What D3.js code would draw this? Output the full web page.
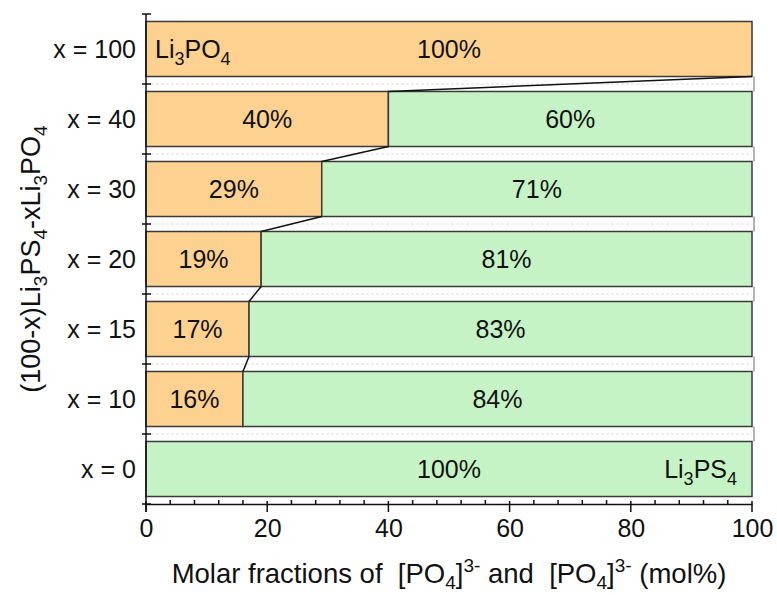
<!DOCTYPE html>
<html>
<head>
<meta charset="utf-8">
<script src="https://cdn.jsdelivr.net/npm/d3@7"></script>
<style>
  body { margin: 0; background: #fff; }
  text { font-family: Arial, "Liberation Sans", sans-serif; fill: #111; }
</style>
</head>
<body>
<div id="chart"></div>
<script>
// composition rows, top to bottom
var categories = ["x = 100", "x = 40", "x = 30", "x = 20", "x = 15", "x = 10", "x = 0"];
var po4 = [100, 40, 29, 19, 17, 16, 0];
var ps4 = [0, 60, 71, 81, 83, 84, 100];
var xTicks = [0, 20, 40, 60, 80, 100];

var svgWidth = 777;
var svgHeight = 595;

var margin = { top: 14, right: 25, bottom: 91, left: 146 };
var width = svgWidth - margin.left - margin.right;
var height = svgHeight - margin.top - margin.bottom;

var orange = "#fdd18f";
var green = "#c6f3c5";
var fs = 25;

var svg = d3.select("#chart")
  .append("svg")
  .attr("width", svgWidth)
  .attr("height", svgHeight);

var chartGroup = svg.append("g")
  .attr("transform", `translate(${margin.left}, ${margin.top})`);

var xScale = d3.scaleLinear().domain([0, 100]).range([0, width]);
var yScale = d3.scaleBand().domain(categories).range([0, height])
  .paddingInner(0.214).paddingOuter(0.107);

var step = yScale.step();
var bounds = d3.range(categories.length + 1).map(i => i * step);

// dashed grid in the gaps
chartGroup.selectAll(".grid")
  .data(bounds.slice(1, -1))
  .enter()
  .append("line")
  .attr("x1", 0).attr("x2", width)
  .attr("y1", d => d).attr("y2", d => d)
  .attr("stroke", "#dcdcdc")
  .attr("stroke-dasharray", "3,2");

// small marks on the right edge in gaps
chartGroup.selectAll(".edge")
  .data(categories.slice(0, -1))
  .enter()
  .append("line")
  .attr("x1", width + 2).attr("x2", width + 2)
  .attr("y1", d => yScale(d) + yScale.bandwidth())
  .attr("y2", (d, i) => yScale(categories[i + 1]))
  .attr("stroke", "#999")
  .attr("stroke-width", 1.5);

var rows = categories.map((c, i) => ({ cat: c, po4: po4[i], ps4: ps4[i] }));

// orange part
chartGroup.selectAll(".po4")
  .data(rows.filter(d => d.po4 > 0))
  .enter()
  .append("rect")
  .attr("x", xScale(0))
  .attr("y", d => yScale(d.cat))
  .attr("width", d => xScale(d.po4) - xScale(0))
  .attr("height", yScale.bandwidth())
  .attr("fill", orange)
  .attr("stroke", "#3a3a3a")
  .attr("stroke-width", 1.5);

// green part
chartGroup.selectAll(".ps4")
  .data(rows.filter(d => d.ps4 > 0))
  .enter()
  .append("rect")
  .attr("x", d => xScale(d.po4))
  .attr("y", d => yScale(d.cat))
  .attr("width", d => xScale(d.po4 + d.ps4) - xScale(d.po4))
  .attr("height", yScale.bandwidth())
  .attr("fill", green)
  .attr("stroke", "#3a3a3a")
  .attr("stroke-width", 1.5);

// connectors between orange ends
var links = [];
for (var i = 0; i < rows.length - 1; i++) {
  if (rows[i].po4 > 0 && rows[i + 1].po4 > 0) links.push([rows[i], rows[i + 1]]);
}
chartGroup.selectAll(".link")
  .data(links)
  .enter()
  .append("line")
  .attr("x1", d => xScale(d[0].po4))
  .attr("y1", d => yScale(d[0].cat) + yScale.bandwidth())
  .attr("x2", d => xScale(d[1].po4))
  .attr("y2", d => yScale(d[1].cat))
  .attr("stroke", "#111")
  .attr("stroke-width", 1.5);

var mid = yScale.bandwidth() / 2 + 9;

// percent labels
chartGroup.selectAll(".lblPo4")
  .data(rows.filter(d => d.po4 > 0))
  .enter()
  .append("text")
  .attr("x", d => (xScale(0) + xScale(d.po4)) / 2)
  .attr("y", d => yScale(d.cat) + mid)
  .attr("text-anchor", "middle")
  .style("font-size", fs + "px")
  .text(d => d.po4 + "%");

chartGroup.selectAll(".lblPs4")
  .data(rows.filter(d => d.ps4 > 0))
  .enter()
  .append("text")
  .attr("x", d => (xScale(d.po4) + xScale(100)) / 2)
  .attr("y", d => yScale(d.cat) + mid)
  .attr("text-anchor", "middle")
  .style("font-size", fs + "px")
  .text(d => d.ps4 + "%");

// compound names
function formula(sel, parts) {
  parts.forEach(function (p) {
    var t = sel.append("tspan").text(p[0]);
    if (p[1] === "sub") t.attr("dy", 7).style("font-size", "18px");
    else if (p[1] === "back") t.attr("dy", -7);
  });
}
var li3po4 = chartGroup.append("text")
  .attr("x", 9)
  .attr("y", yScale(categories[0]) + mid)
  .style("font-size", fs + "px");
formula(li3po4, [["Li"], ["3", "sub"], ["PO", "back"], ["4", "sub"]]);

var li3ps4 = chartGroup.append("text")
  .attr("x", width - 15)
  .attr("y", yScale(categories[6]) + mid)
  .attr("text-anchor", "end")
  .style("font-size", fs + "px");
formula(li3ps4, [["Li"], ["3", "sub"], ["PS", "back"], ["4", "sub"]]);

// y axis
var yAxisG = chartGroup.append("g");
yAxisG.append("line")
  .attr("x1", 0).attr("x2", 0)
  .attr("y1", 0).attr("y2", height + 8)
  .attr("stroke", "#111").attr("stroke-width", 1.5);
yAxisG.selectAll(".ytick")
  .data(bounds)
  .enter()
  .append("line")
  .attr("x1", -4).attr("x2", 5)
  .attr("y1", d => d).attr("y2", d => d)
  .attr("stroke", "#111").attr("stroke-width", 1.5);
yAxisG.selectAll(".ylab")
  .data(categories)
  .enter()
  .append("text")
  .attr("x", -10)
  .attr("y", d => yScale(d) + mid)
  .attr("text-anchor", "end")
  .style("font-size", fs + "px")
  .text(d => d);

// x axis
var xAxis = d3.axisBottom(xScale).tickValues(xTicks).tickSize(0).tickPadding(0);
var xAxisG = chartGroup.append("g")
  .attr("transform", `translate(0, ${height})`)
  .call(xAxis);
xAxisG.select(".domain").attr("stroke", "#111").attr("stroke-width", 1.5);
xAxisG.selectAll(".tick line").remove();
xAxisG.selectAll(".tick text")
  .attr("y", 33)
  .attr("dy", 0)
  .style("font-size", fs + "px")
  .style("font-family", "Arial, 'Liberation Sans', sans-serif")
  .attr("fill", "#111");
xAxisG.selectAll(".major")
  .data(xTicks)
  .enter()
  .append("line")
  .attr("x1", d => xScale(d)).attr("x2", d => xScale(d))
  .attr("y1", -3).attr("y2", 8)
  .attr("stroke", "#111").attr("stroke-width", 1.5);
xAxisG.selectAll(".minor")
  .data(d3.range(0, 101, 4).filter(v => v % 20 !== 0))
  .enter()
  .append("line")
  .attr("x1", d => xScale(d)).attr("x2", d => xScale(d))
  .attr("y1", -4).attr("y2", 0)
  .attr("stroke", "#111").attr("stroke-width", 1.5);

// axis titles
var xTitle = svg.append("text")
  .attr("x", margin.left + width / 2)
  .attr("y", 583)
  .attr("text-anchor", "middle")
  .style("font-size", "27.5px")
  .attr("xml:space", "preserve");
xTitle.append("tspan").text("Molar fractions of  [PO");
xTitle.append("tspan").text("4").attr("dy", 6).style("font-size", "19px");
xTitle.append("tspan").text("]").attr("dy", -6);
xTitle.append("tspan").text("3-").attr("dy", -11).style("font-size", "19px");
xTitle.append("tspan").text(" and  [PO").attr("dy", 11);
xTitle.append("tspan").text("4").attr("dy", 6).style("font-size", "19px");
xTitle.append("tspan").text("]").attr("dy", -6);
xTitle.append("tspan").text("3-").attr("dy", -11).style("font-size", "19px");
xTitle.append("tspan").text(" (mol%)").attr("dy", 11);

var yTitle = svg.append("text")
  .attr("transform", `translate(40, 259) rotate(-90)`)
  .attr("text-anchor", "middle")
  .style("font-size", "27px");
yTitle.append("tspan").text("(100-x)Li");
yTitle.append("tspan").text("3").attr("dy", 7).style("font-size", "19px");
yTitle.append("tspan").text("PS").attr("dy", -7);
yTitle.append("tspan").text("4").attr("dy", 7).style("font-size", "19px");
yTitle.append("tspan").text("-xLi").attr("dy", -7);
yTitle.append("tspan").text("3").attr("dy", 7).style("font-size", "19px");
yTitle.append("tspan").text("PO").attr("dy", -7);
yTitle.append("tspan").text("4").attr("dy", 7).style("font-size", "19px");
</script>
</body>
</html>
